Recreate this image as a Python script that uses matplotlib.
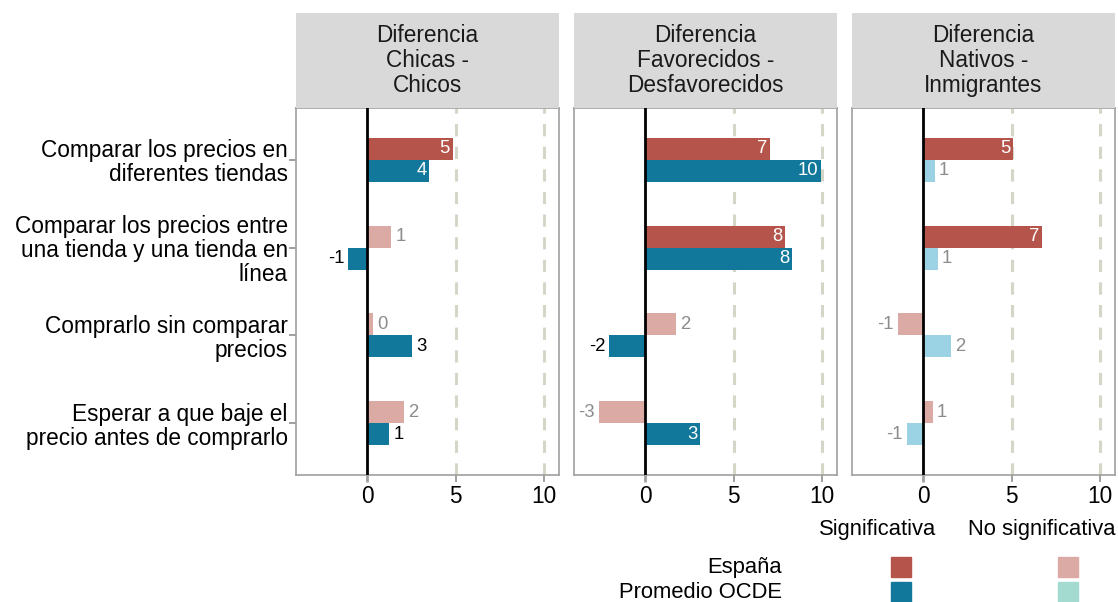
import numpy as np
import matplotlib
matplotlib.use("Agg")
import matplotlib.pyplot as plt
from matplotlib.patches import Rectangle

plt.rcParams['font.family'] = ['Liberation Sans', 'DejaVu Sans']

# datos
items = ["Comparar los precios en\ndiferentes tiendas",
         "Comparar los precios entre\nuna tienda y una tienda en\nlínea",
         "Comprarlo sin comparar\nprecios",
         "Esperar a que baje el\nprecio antes de comprarlo"]
panels = ["Diferencia\nChicas -\nChicos",
          "Diferencia\nFavorecidos -\nDesfavorecidos",
          "Diferencia\nNativos -\nInmigrantes"]
espana = [[4.83, 1.36, 0.34, 2.10],
          [7.06, 7.92, 1.75, -2.60],
          [5.11, 6.75, -1.43, 0.55]]
ocde = [[3.52, -1.06, 2.52, 1.25],
        [9.96, 8.32, -2.02, 3.11],
        [0.66, 0.83, 1.56, -0.92]]
espana_sig = [[1, 0, 0, 0], [1, 1, 0, 0], [1, 1, 0, 0]]
ocde_sig = [[1, 1, 1, 1], [1, 1, 1, 1], [0, 0, 0, 0]]
xticks = [0, 5, 10]

# colores
c_esp = '#B5544A'
c_esp_ns = '#DCAAA5'
c_ocde = '#11789C'
c_ocde_ns = '#9BD3E4'
c_ocde_ns_leg = '#A3DBD0'
c_grid = '#D6D6C8'
c_border = '#A0A0A0'

W, H = 1118, 602
fig = plt.figure(figsize=(W/100, H/100), dpi=100)

def px_axes(x0, y0, x1, y1, **kw):
    return fig.add_axes([x0/W, 1-y1/H, (x1-x0)/W, (y1-y0)/H], **kw)

rows = np.arange(1, len(items)+1)
bh = 0.25
lefts = [296, 574, 852]
pw = 263
top, bottom, strip_top = 108, 475, 13
fs = 16.3
fs_leg = 15.8
fs_val = 13.3

def put_label(ax, v, y, sig, color_out):
    txt = "%d" % round(v)
    if sig and abs(v) >= 3:
        ax.annotate(txt, (v, y), xytext=(-2 if v > 0 else 2, 0), textcoords='offset points',
                    ha='right' if v > 0 else 'left', va='center', color='white', fontsize=fs_val)
    else:
        ax.annotate(txt, (v, y), xytext=(3 if v >= 0 else -3, 0), textcoords='offset points',
                    ha='left' if v >= 0 else 'right', va='center', color=color_out, fontsize=fs_val)

for k in range(3):
    x0 = lefts[k]
    ax = px_axes(x0, top, x0+pw, bottom)
    st = px_axes(x0, strip_top, x0+pw, top)
    st.set_facecolor('#D9D9D9')
    st.set_xticks([]); st.set_yticks([])
    for s in st.spines.values():
        s.set_visible(False)
    st.text(0.5, 0.5, panels[k], ha='center', va='center', fontsize=fs,
            color='#1A1A1A', linespacing=1.12, transform=st.transAxes)

    for x in xticks[1:]:
        ax.axvline(x, color=c_grid, lw=2.2, ls=(0, (4, 3.4)), zorder=0)

    for i, r in enumerate(rows):
        ve, vo = espana[k][i], ocde[k][i]
        se, so = espana_sig[k][i], ocde_sig[k][i]
        ax.barh(r-bh/2, ve, height=bh, color=c_esp if se else c_esp_ns, zorder=2)
        ax.barh(r+bh/2, vo, height=bh, color=c_ocde if so else c_ocde_ns, zorder=2)
        put_label(ax, ve, r-bh/2, se, 'black' if se else '#8C8C8C')
        put_label(ax, vo, r+bh/2, so, 'black' if so else '#8C8C8C')

    ax.axvline(0, color='black', lw=2, zorder=3)
    ax.set_xlim(-4.02, 10.85)
    ax.set_ylim(4.59, 0.41)
    ax.set_xticks(xticks)
    ax.set_xticklabels([str(t) for t in xticks], fontsize=fs)
    ax.tick_params(axis='x', length=5, width=1.4, color=c_border, pad=2)
    ax.get_xticklines()[0].set_color('black')
    ax.get_xticklines()[0].set_markeredgewidth(2)
    if k == 0:
        ax.set_yticks(rows)
        ax.set_yticklabels(items, fontsize=fs, ha='right', linespacing=1.05)
        ax.tick_params(axis='y', length=5, width=1.4, color=c_border, pad=1)
    else:
        ax.set_yticks([])
    for s in ax.spines.values():
        s.set_color(c_border)
        s.set_linewidth(1.2)

# leyenda
lg = px_axes(0, 0, W, H, facecolor='none')
lg.set_xlim(0, W); lg.set_ylim(H, 0)
lg.axis('off')
lg.text(878, 530, "Significativa", ha='center', va='center', fontsize=fs_leg)
lg.text(1042, 530, "No significativa", ha='center', va='center', fontsize=fs_leg)
lg.text(782, 567, "España", ha='right', va='center', fontsize=fs_leg)
lg.text(782, 592, "Promedio OCDE", ha='right', va='center', fontsize=fs_leg)
for xk, cols in [(891, (c_esp, c_ocde)), (1058, (c_esp_ns, c_ocde_ns_leg))]:
    lg.add_patch(Rectangle((xk, 557), 20, 20, color=cols[0]))
    lg.add_patch(Rectangle((xk, 582), 20, 20, color=cols[1]))

fig.savefig("out.png", dpi=100)
